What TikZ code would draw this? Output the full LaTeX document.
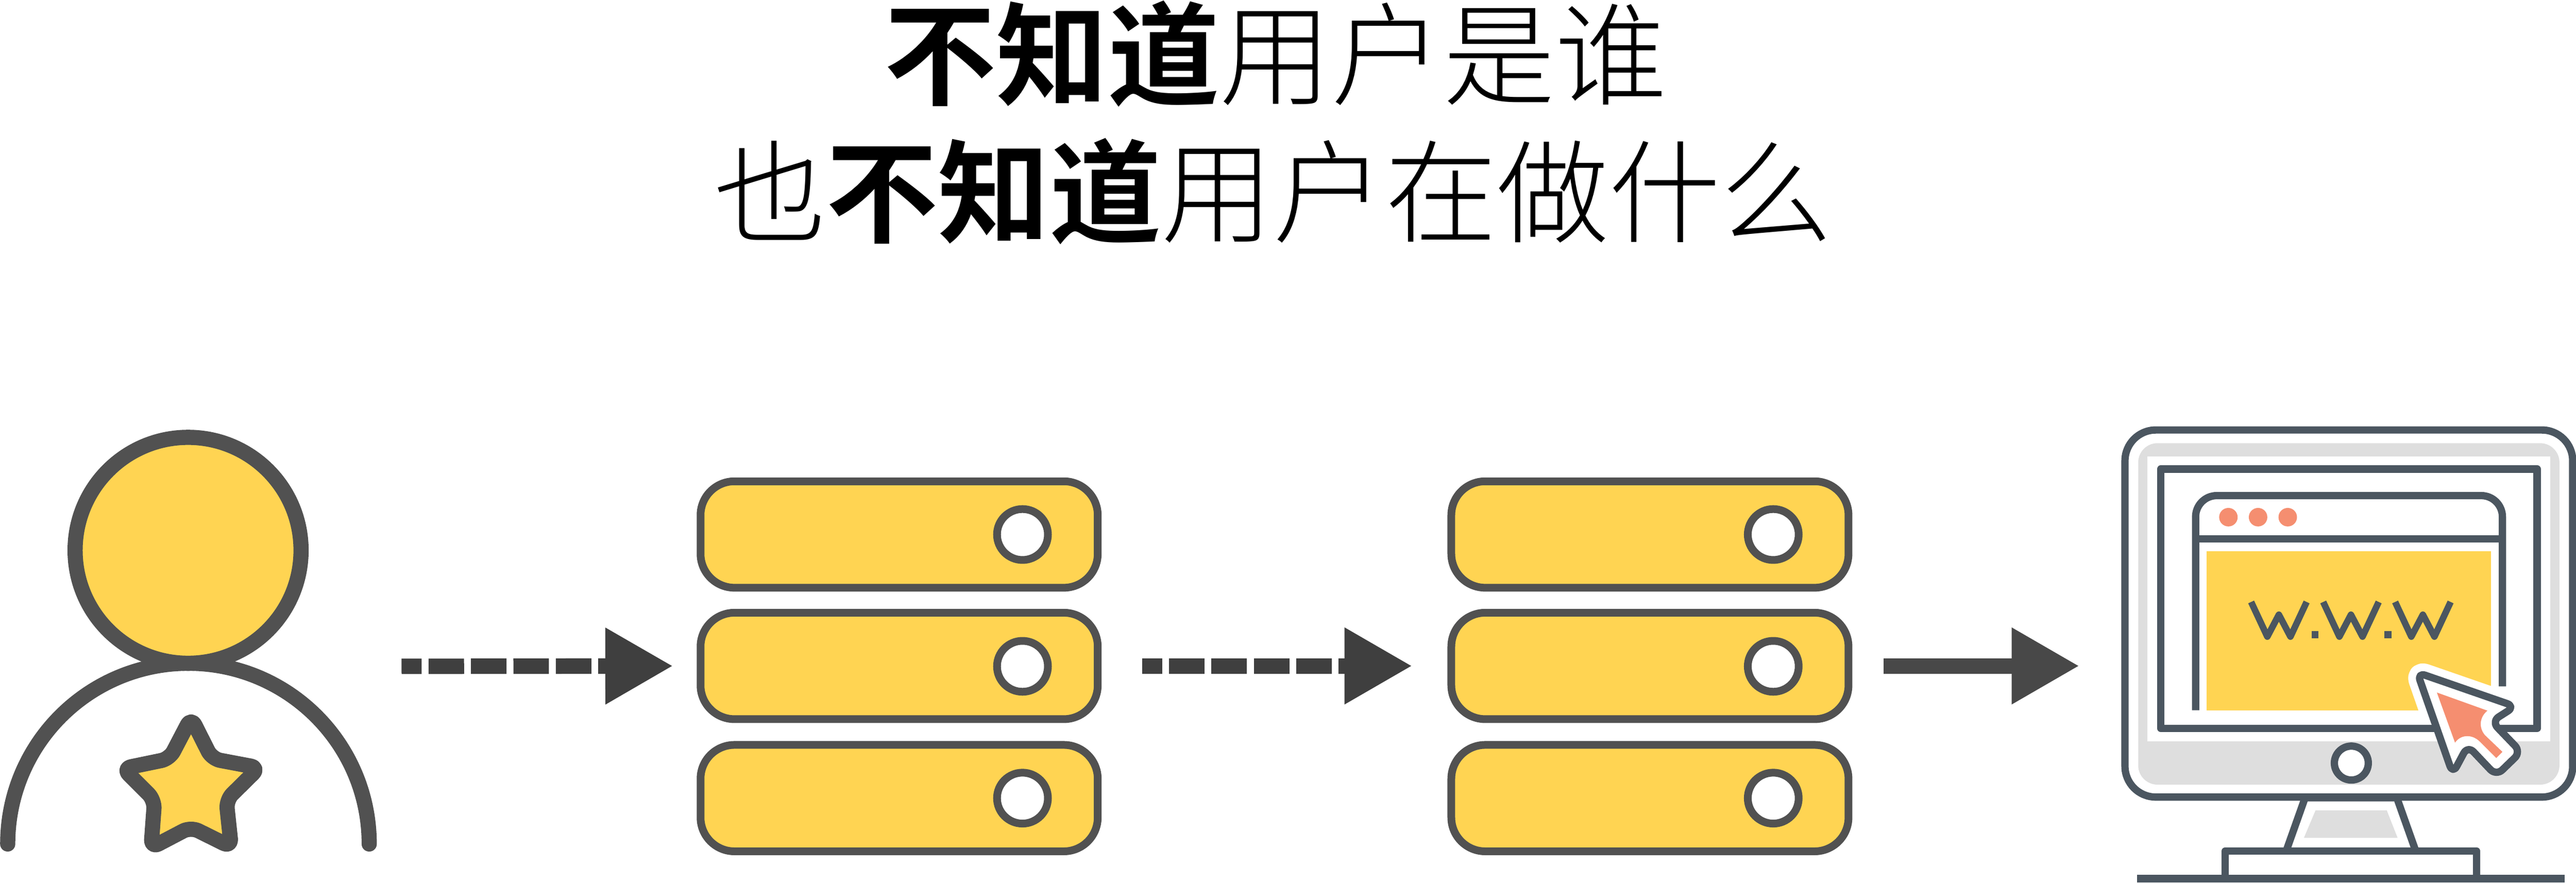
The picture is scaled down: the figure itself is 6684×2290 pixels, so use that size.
\documentclass[tikz,border=0pt]{standalone}
\usepackage{fontspec}
\usetikzlibrary{arrows.meta}
\newfontfamily\cjkbold{Noto Sans CJK SC Bold}
\newfontfamily\cjklight{Noto Sans CJK SC Light}
\definecolor{fillyellow}{HTML}{FFD452}
\definecolor{lineperson}{HTML}{515151}
\definecolor{lineflow}{HTML}{3F3F3F}
\definecolor{linesolid}{HTML}{484848}
\definecolor{linescreen}{HTML}{4B5660}
\definecolor{fillgrey}{HTML}{DEDEDE}
\definecolor{fillsalmon}{HTML}{F58E70}
\begin{document}
\begin{tikzpicture}[x=0.01cm, y=-0.01cm]
	\tikzstyle{titleline} = [inner sep=0pt, font=\fontsize{82.5pt}{90pt}\selectfont]
	\tikzstyle{serverbox} = [rectangle, rounded corners=0.88cm, minimum width=10.3cm, minimum height=2.76cm, inner sep=0pt, outer sep=0pt, draw=lineperson, fill=fillyellow, line width=5.7pt]
	\tikzstyle{serverhole} = [circle, minimum size=1.32cm, inner sep=0pt, outer sep=0pt, draw=lineperson, fill=white, line width=5.7pt]
	\tikzstyle{personline} = [draw=lineperson, line width=11.2pt]
	\tikzstyle{screenline} = [draw=linescreen, line width=5.4pt]
	\tikzstyle{dashflow} = [draw=lineflow, line width=11.4pt, dash pattern=on 26.2pt off 5.1pt, dash phase=11.4pt, -{Triangle[length=49.2pt, width=56.9pt, line width=0pt]}]
	\tikzstyle{solidflow} = [draw=linesolid, line width=11.4pt, -{Triangle[length=49.2pt, width=56.9pt, line width=0pt]}]

	\useasboundingbox (0,0) rectangle (6684,2290);

	\node[titleline] (titleA) at (3310,140) {{\cjkbold 不知道}{\cjklight 用户是谁}};
	\node[titleline] (titleB) at (3304,497) {{\cjklight 也}{\cjkbold 不知道}{\cjklight 用户在做什么}};

	% person
	\draw[personline, line cap=round] (20,2190) arc[start angle=180, end angle=360, radius=469];
	\node[circle, minimum size=5.86cm, inner sep=0pt, outer sep=0pt, personline, fill=fillyellow] (head) at (488,1428) {};
	\draw[personline, fill=fillyellow, line join=round, rounded corners=0.22cm]
		(496,1862) -- (550,1969) -- (672,1992) -- (587,2076) -- (600,2198) -- (495,2146) -- (392,2200) -- (401,2076) -- (319,1994) -- (440,1969) -- cycle;

	% servers
	\foreach \name/\x in {srva/2333, srvb/4281}
		\foreach \row/\y/\hy in {1/1387/1387, 2/1728/1729, 3/2071/2071} {
			\node[serverbox] (\name\row) at (\x,\y) {};
			\node[serverhole] (\name hole\row) at (\x+320,\hy) {};
		}

	% monitor
	\node[rectangle, rounded corners=0.8cm, minimum width=11.61cm, minimum height=9.52cm, inner sep=0pt, outer sep=0pt, screenline, fill=white] (monitor) at (6094.5,1592) {};
	\fill[fillgrey, rounded corners=0.5cm] (5548,1150) rectangle (6641,2036);
	\fill[white] (5572,1184) rectangle (6617,1923);
	\fill[fillyellow] (5726,1431) rectangle (6463,1843);
	\begin{scope}
		\clip (5572,1184) rectangle (6617,1923);
		\draw[white, line width=16.8pt, line join=round, rounded corners=0.22cm]
			(6272,1745) -- (6526,1833) -- (6465,1872) -- (6541,1951) -- (6477,2013) -- (6403,1935) -- (6364,2008) -- cycle;
	\end{scope}
	\draw[screenline, line join=round] (5606.5,1217) rectangle (6583,1890);
	\draw[screenline, rounded corners=0.55cm] (5697,1843) -- (5697,1286) -- (6493,1286) -- (6493,1781);
	\draw[screenline] (5697,1398) -- (6493,1398);
	\foreach \x in {5782, 5859, 5936}
		\fill[fillsalmon] (\x,1342) circle[radius=24];
	\foreach \x in {0, 187, 373.6}
		\draw[screenline, line width=4.8pt, line join=round] (5841+\x,1562) -- (5883+\x,1652) -- (5913+\x,1595) -- (5943+\x,1652) -- (5985+\x,1562);
	\foreach \x in {6007, 6196}
		\fill[linescreen] (\x-9,1638) rectangle (\x+9,1656);
	\node[circle, minimum size=0.88cm, inner sep=0pt, outer sep=0pt, screenline, fill=white] (power) at (6101,1980) {};

	% stand
	\fill[fillgrey] (6008,2103) -- (6193,2103) -- (6221,2174) -- (5978,2174) -- cycle;
	\draw[screenline, line join=round] (5932,2208) -- (5981,2070) -- (6219,2070) -- (6268,2208);
	\draw[screenline, line join=round] (5774,2280) -- (5774,2208) -- (6426,2208) -- (6426,2280);
	\draw[screenline] (5545,2280) -- (6655,2280);

	% cursor
	\draw[screenline, fill=white, line join=round, rounded corners=0.22cm]
		(6272,1745) -- (6526,1833) -- (6465,1872) -- (6541,1951) -- (6477,2013) -- (6403,1935) -- (6364,2008) -- cycle;
	\fill[fillsalmon] (6323,1797) -- (6454,1844) .. controls (6432,1862) and (6432,1890) .. (6448,1908) -- (6493,1951) -- (6477,1967) -- (6434,1924) .. controls (6415,1905) and (6385,1905) .. (6370,1927) -- cycle;

	% flows
	\coordinate (userout) at (1042,1729);
	\draw[dashflow, shorten >=0.74cm] (userout) -- (srva2.west);
	\draw[dashflow, shorten <=1.15cm, shorten >=1.04cm] (srva2.east) -- (srvb2.west);
	\draw[solidflow, shorten <=0.91cm, shorten >=1.21cm] (srvb2.east) -- (monitor.west |- srvb2.east);
\end{tikzpicture}
\end{document}
